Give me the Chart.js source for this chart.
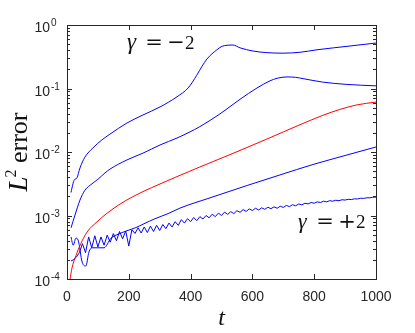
<!DOCTYPE html>
<html>
<head>
<meta charset="utf-8">
<script src="https://cdn.jsdelivr.net/npm/chart.js"></script>
<style>
  body { margin: 0; background: #fff; }
  canvas { display: block; }
</style>
</head>
<body>
<canvas id="grafico" width="415" height="333"></canvas>
<script>
// gamma = -2 (top blue)
const tA = [13, 16, 23, 32, 42, 58, 84, 113, 139, 194, 246, 301, 356, 392, 420, 437, 453, 469, 485, 502, 518, 537, 560, 602, 647, 699, 754, 809, 916, 1000];
const vA = [2.3e-3, 2.7e-3, 3.6e-3, 3.9e-3, 5.6e-3, 8.3e-3, 0.0116, 0.0155, 0.0191, 0.0286, 0.0383, 0.0512, 0.0741, 0.102, 0.162, 0.224, 0.292, 0.351, 0.407, 0.462, 0.479, 0.484, 0.437, 0.389, 0.367, 0.36, 0.372, 0.407, 0.467, 0.52];

const tB = [13, 26, 42, 58, 81, 100, 123, 139, 194, 246, 301, 356, 395, 430, 495, 560, 615, 657, 680, 712, 740, 764, 828, 906, 1000];
const vB = [6.4e-4, 1.02e-3, 1.75e-3, 2.5e-3, 3.16e-3, 3.72e-3, 4.68e-3, 5.37e-3, 7.5e-3, 9.6e-3, 0.0129, 0.0166, 0.0204, 0.0251, 0.0398, 0.0676, 0.102, 0.132, 0.145, 0.152, 0.150, 0.143, 0.126, 0.116, 0.11];

// red curve
const tR = [10, 16, 29, 45, 65, 97, 129, 162, 194, 246, 301, 366, 430, 537, 647, 754, 828, 883, 939, 1000];
const vR = [1.0e-4, 1.48e-4, 2.34e-4, 3.63e-4, 5.5e-4, 7.94e-4, 1.08e-3, 1.41e-3, 1.76e-3, 2.38e-3, 3.14e-3, 4.3e-3, 5.81e-3, 9.5e-3, 0.016, 0.0269, 0.0378, 0.0468, 0.0553, 0.0611];

const tC = [13, 20, 29, 36, 49, 61, 71, 81, 97, 120, 142, 168, 194, 223, 249, 285, 327, 366, 456, 583, 689, 796, 906, 1000];
const vC = [4.6e-4, 3.4e-4, 4.4e-4, 4.1e-4, 1.85e-4, 1.6e-4, 2.66e-4, 3.1e-4, 3.1e-4, 3.1e-4, 4.37e-4, 5.13e-4, 5.75e-4, 6.46e-4, 7.41e-4, 8.91e-4, 1.07e-3, 1.31e-3, 1.85e-3, 2.97e-3, 4.35e-3, 6.35e-3, 8.97e-3, 0.012];

// gamma = +2 (noisy bottom blue)
const tD = [13, 20, 30, 40, 50, 60, 70, 80, 90, 100, 110, 120, 130, 140, 150, 160, 170, 180, 190, 200,
  210, 220, 230, 240, 250, 260, 270, 280, 290, 300, 310, 320, 330, 340, 350, 360, 370, 380, 390, 400,
  410, 420, 430, 440, 450, 460, 470, 480, 490, 500, 510, 520, 530, 540, 550, 560, 570, 580, 590, 600,
  610, 620, 630, 640, 650, 660, 670, 680, 690, 700, 710, 720, 730, 740, 750, 760, 770, 780, 790, 800,
  810, 820, 830, 840, 850, 860, 870, 880, 890, 900, 910, 920, 930, 940, 950, 960, 970, 980, 990, 1000];
const vD = [1.92e-4, 2.0e-4, 2.2e-4, 2.6e-4, 3.6e-4, 2.6e-4, 4.6e-4, 3.1e-4, 4.8e-4, 3.2e-4,
  4.6e-4, 3.4e-4, 4.9e-4, 3.8e-4, 5.2e-4, 4.0e-4, 5.6e-4, 4.3e-4, 5.7e-4, 3.3e-4,
  6.0e-4, 5.2e-4, 6.4e-4, 5.3e-4, 6.6e-4, 5.4e-4, 6.8e-4, 5.6e-4, 7.0e-4, 5.8e-4,
  7.2e-4, 6.2e-4, 7.6e-4, 6.6e-4, 8.0e-4, 7.0e-4, 8.6e-4, 7.6e-4, 8.9e-4, 8.0e-4,
  9.3e-4, 8.3e-4, 9.6e-4, 8.8e-4, 1.0e-3, 9.2e-4, 1.05e-3, 9.6e-4, 1.09e-3, 1.0e-3,
  1.13e-3, 1.04e-3, 1.15e-3, 1.07e-3, 1.19e-3, 1.12e-3, 1.24e-3, 1.16e-3, 1.27e-3, 1.2e-3,
  1.3e-3, 1.22e-3, 1.32e-3, 1.25e-3, 1.35e-3, 1.28e-3, 1.37e-3, 1.3e-3, 1.4e-3, 1.34e-3,
  1.44e-3, 1.38e-3, 1.48e-3, 1.42e-3, 1.52e-3, 1.47e-3, 1.56e-3, 1.52e-3, 1.6e-3, 1.56e-3,
  1.64e-3, 1.6e-3, 1.68e-3, 1.64e-3, 1.71e-3, 1.68e-3, 1.74e-3, 1.71e-3, 1.77e-3, 1.75e-3,
  1.8e-3, 1.78e-3, 1.83e-3, 1.82e-3, 1.87e-3, 1.86e-3, 1.9e-3, 1.9e-3, 1.94e-3, 1.95e-3];

const xTicks = [0, 200, 400, 600, 800, 1000];
const yExps = [-4, -3, -2, -1, 0];

const AZUL = '#0000ff';
const VERMELHO = '#ff0000';
const EIXO = '#262626';

function pares(ts, vs) {
    return ts.map((t, i) => ({ x: t, y: vs[i] }));
}

function serie(ts, vs, cor, suave) {
    return {
        data: pares(ts, vs),
        borderColor: cor,
        borderWidth: 1,
        pointRadius: 0,
        fill: false,
        cubicInterpolationMode: suave ? 'monotone' : 'default',
        tension: 0
    };
}

// draw gamma label glyph by glyph
function rotuloGamma(ctx, x0, base, sinal, tam) {
    ctx.fillStyle = '#111';
    ctx.textBaseline = 'alphabetic';
    ctx.textAlign = 'left';
    ctx.font = 'italic ' + tam + 'px "Liberation Serif"';
    ctx.fillText('γ', x0, base);
    ctx.font = '21px "DejaVu Serif"';
    ctx.textAlign = 'center';
    ctx.fillText('=', x0 + 27, base);
    ctx.fillText(sinal, x0 + 49, base);
    ctx.textAlign = 'left';
    ctx.font = '19px "Liberation Serif"';
    ctx.fillText('2', x0 + 58, base);
}

const moldura = {
    id: 'moldura',
    afterDraw(chart) {
        const { ctx, chartArea: a, scales: { x, y } } = chart;
        ctx.save();
        ctx.strokeStyle = EIXO;
        ctx.lineWidth = 1;
        ctx.strokeRect(a.left + 0.5, a.top + 0.5, a.right - a.left, a.bottom - a.top);

        ctx.beginPath();
        xTicks.forEach(v => {
            const px = Math.round(x.getPixelForValue(v)) + 0.5;
            ctx.moveTo(px, a.bottom); ctx.lineTo(px, a.bottom - 5);
            ctx.moveTo(px, a.top); ctx.lineTo(px, a.top + 5);
        });
        yExps.forEach(k => {
            const ms = k === 0 ? [1] : [1, 2, 3, 4, 5, 6, 7, 8, 9];
            ms.forEach(m => {
                const py = Math.round(y.getPixelForValue(m * Math.pow(10, k))) + 0.5;
                const len = m === 1 ? 5 : 3;
                ctx.moveTo(a.left, py); ctx.lineTo(a.left + len, py);
                ctx.moveTo(a.right, py); ctx.lineTo(a.right - len, py);
            });
        });
        ctx.stroke();

        // tick labels
        ctx.fillStyle = EIXO;
        ctx.textBaseline = 'alphabetic';
        ctx.font = '14px "Liberation Sans"';
        ctx.textAlign = 'center';
        xTicks.forEach(v => {
            ctx.fillText(String(v), x.getPixelForValue(v), a.bottom + 22);
        });
        yExps.forEach(k => {
            const py = y.getPixelForValue(Math.pow(10, k));
            ctx.font = '14px "Liberation Sans"';
            ctx.textAlign = 'right';
            ctx.fillText('10', a.left - 17, py + 7);
            ctx.font = '10px "Liberation Sans"';
            ctx.textAlign = 'left';
            ctx.fillText(String(k), a.left - 16, py + 1);
        });

        // axis titles
        ctx.fillStyle = '#111';
        ctx.font = 'italic 24px "Liberation Serif"';
        ctx.textAlign = 'center';
        ctx.fillText('t', (a.left + a.right) / 2, 325);

        ctx.save();
        ctx.translate(27, (a.top + a.bottom) / 2);
        ctx.rotate(-Math.PI / 2);
        ctx.textAlign = 'left';
        ctx.font = 'italic 27px "Liberation Serif"';
        const wL = ctx.measureText('L').width;
        ctx.font = '16px "Liberation Serif"';
        const w2 = ctx.measureText('2').width;
        ctx.font = '26px "Liberation Serif"';
        const wE = ctx.measureText(' error').width;
        let px = -(wL - 1 + w2 + wE) / 2;
        ctx.font = 'italic 27px "Liberation Serif"';
        ctx.fillText('L', px, 0);
        px += wL - 1;
        ctx.font = '16px "Liberation Serif"';
        ctx.fillText('2', px, -11);
        px += w2;
        ctx.font = '26px "Liberation Serif"';
        ctx.fillText(' error', px, 0);
        ctx.restore();

        rotuloGamma(ctx, 127, 49, '−', 23);
        rotuloGamma(ctx, 298, 228, '+', 22);
        ctx.restore();
    }
};

const config = {
    type: 'line',
    data: {
        datasets: [
            serie(tA, vA, AZUL, true),
            serie(tB, vB, AZUL, true),
            serie(tR, vR, VERMELHO, true),
            serie(tC, vC, AZUL, true),
            serie(tD, vD, AZUL, false)
        ]
    },
    options: {
        responsive: false,
        animation: false,
        devicePixelRatio: 1,
        layout: { padding: { left: 67, top: 25, right: 39, bottom: 54 } },
        plugins: {
            legend: { display: false },
            tooltip: { enabled: false }
        },
        scales: {
            x: { type: 'linear', min: 0, max: 1000, display: false },
            y: { type: 'logarithmic', min: 1e-4, max: 1, display: false }
        }
    },
    plugins: [moldura]
};

const ctx = document.getElementById('grafico').getContext('2d');
new Chart(ctx, config);
</script>
</body>
</html>
